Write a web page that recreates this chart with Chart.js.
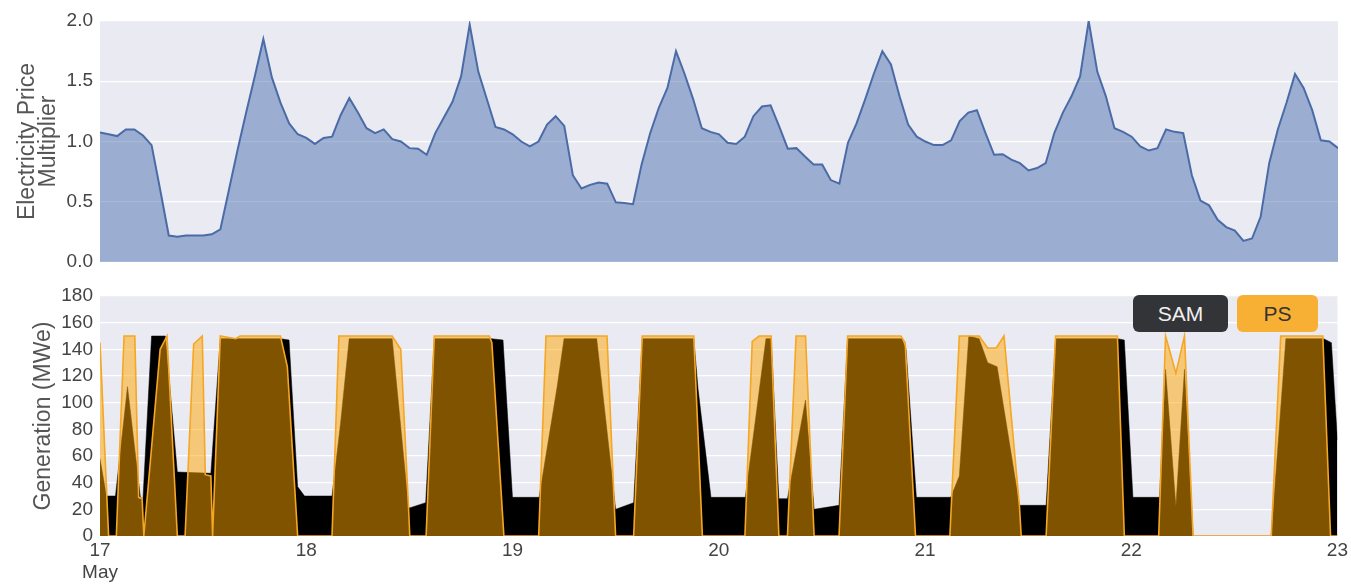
<!DOCTYPE html>
<html>
<head>
<meta charset="utf-8">
<script src="https://cdn.jsdelivr.net/npm/chart.js@4.4.1/dist/chart.umd.min.js"></script>
<style>
  html, body { margin: 0; padding: 0; background: #fff; }
  body { width: 1351px; height: 584px; position: relative; overflow: hidden; font-family: "Liberation Sans", Arial, sans-serif; }
  #topWrap { position: absolute; left: 0; top: 0; }
  #botWrap { position: absolute; left: 0; top: 275px; }
  .tag { position: absolute; top: 295px; height: 37px; line-height: 37px; text-align: center; font-size: 21px; border-radius: 6px; }
  #tagSam { left: 1133px; width: 95px; background: #333438; color: #f0f0f0; }
  #tagPs { left: 1237px; width: 81px; background: #f7b034; color: #333; }
</style>
</head>
<body>
<div id="topWrap"><canvas id="priceChart" width="1351" height="281"></canvas></div>
<div id="botWrap"><canvas id="genChart" width="1351" height="309"></canvas></div>
<div class="tag" id="tagSam">SAM</div>
<div class="tag" id="tagPs">PS</div>
<script>
// hourly price multiplier, 17 May 00:00 -> 23 May 00:00
const priceValues = [
  1.075, 1.06, 1.045, 1.10, 1.10, 1.05, 0.97, 0.60, 0.22, 0.21,
  0.22, 0.22, 0.22, 0.23, 0.27, 0.60, 0.93, 1.24, 1.54, 1.85,
  1.53, 1.32, 1.15, 1.06, 1.03, 0.98, 1.03, 1.04, 1.22, 1.36,
  1.24, 1.11, 1.07, 1.10, 1.02, 1.00, 0.945, 0.94, 0.89, 1.07,
  1.20, 1.33, 1.54, 1.97, 1.58, 1.35, 1.12, 1.10, 1.06, 1.00,
  0.96, 1.00, 1.14, 1.21, 1.13, 0.72, 0.61, 0.64, 0.66, 0.65,
  0.495, 0.49, 0.48, 0.81, 1.07, 1.28, 1.445, 1.75, 1.56, 1.35,
  1.11, 1.08, 1.06, 0.99, 0.98, 1.04, 1.21, 1.29, 1.30, 1.125,
  0.94, 0.945, 0.875, 0.81, 0.81, 0.68, 0.65, 0.99, 1.15, 1.35,
  1.56, 1.75, 1.64, 1.375, 1.14, 1.04, 1.00, 0.97, 0.97, 1.01,
  1.17, 1.24, 1.26, 1.07, 0.89, 0.895, 0.85, 0.82, 0.76, 0.78,
  0.82, 1.07, 1.24, 1.375, 1.54, 2.00, 1.58, 1.375, 1.11, 1.08,
  1.04, 0.96, 0.925, 0.945, 1.10, 1.08, 1.07, 0.72, 0.51, 0.47,
  0.35, 0.29, 0.26, 0.175, 0.195, 0.375, 0.82, 1.10, 1.32, 1.56,
  1.445, 1.26, 1.01, 1.00, 0.945
];

// generation (MWe), hours since 17 May 00:00
const samHours = [0, 0.75, 1.8, 3.2, 4.7, 5.0, 6.0, 7.6, 9.0, 12.9,
  14.0, 21.0, 22.0, 23.0, 23.8, 27.0, 28.0, 29.0, 34.0, 35.9,
  36.0, 37.9, 38.9, 45.5, 46.9, 48.0, 51.1, 53.2, 54.0, 57.8,
  59.5, 60.0, 62.1, 63.1, 69.1, 69.6, 71.1, 75.1, 77.5, 78.1,
  79.0, 80.0, 82.1, 83.1, 86.0, 87.0, 93.3, 93.8, 95.0, 99.0,
  100.0, 101.1, 102.3, 103.3, 104.4, 107.0, 110.1, 111.2, 118.4, 119.2,
  120.2, 123.3, 124.0, 125.2, 126.2, 127.2, 136.3, 138.0, 142.4, 143.3, 144.0];
const samMW = [58, 30, 30, 112, 29, 28, 150, 150, 48, 47,
  148, 148, 147, 37, 30, 30, 85, 148, 148, 22,
  21, 25, 148, 148, 147, 29, 29, 112, 148, 148,
  50, 20, 25, 148, 148, 110, 29, 29, 148, 148,
  28, 28, 102, 20, 23, 148, 148, 140, 29, 29,
  45, 150, 148, 130, 127, 23, 23, 148, 148, 147,
  29, 29, 125, 22, 125, 0, 0, 148, 148, 145, 72];

const psHours = [0, 1.0, 1.9, 2.8, 4.05, 4.5, 4.9, 5.1, 7.0, 7.8,
  9.0, 9.9, 10.9, 11.9, 12.25, 12.9, 13.1, 14.0, 15.8, 16.3,
  21.0, 21.8, 23.0, 27.0, 27.8, 34.0, 35.0, 35.9, 36.05, 37.95,
  38.9, 45.3, 45.6, 47.0, 51.05, 51.9, 59.0, 60.0, 62.1, 63.1,
  69.1, 70.1, 75.05, 75.9, 76.7, 78.1, 79.0, 80.0, 81.0, 82.1,
  83.1, 86.0, 87.0, 93.2, 93.7, 94.9, 98.9, 100.0, 102.3, 103.3,
  104.3, 105.2, 107.0, 107.2, 110.1, 111.2, 118.4, 119.2, 123.2, 124.0,
  125.2, 126.2, 127.2, 136.3, 137.4, 142.3, 143.2, 144.0];
const psMW = [145, 0, 0, 150, 150, 29, 28, 0, 140, 150,
  0, 0, 144, 150, 46, 45, 0, 150, 148, 150,
  150, 127, 0, 0, 150, 150, 140, 22, 0, 0,
  150, 150, 145, 0, 0, 150, 150, 0, 0, 150,
  150, 0, 0, 146, 150, 150, 0, 0, 150, 150,
  0, 0, 150, 150, 145, 0, 0, 150, 150, 141,
  141, 150, 22, 0, 0, 150, 150, 0, 0, 150,
  122, 150, 0, 0, 150, 150, 0, 0];

const dayLabels = ['17', '18', '19', '20', '21', '22', '23'];
const monthLabel = 'May';
const priceTicks = [0, 0.5, 1.0, 1.5, 2.0];
const genTicks = [0, 20, 40, 60, 80, 100, 120, 140, 160, 180];

const FONT = '"Liberation Sans", Arial, sans-serif';
const TICK_COLOR = '#444';

const plotBg = {
  id: 'plotBg',
  beforeDraw(chart) {
    const { ctx, chartArea: a } = chart;
    ctx.save();
    ctx.fillStyle = '#eaeaf2';
    ctx.fillRect(a.left, a.top, a.right - a.left, a.bottom - a.top);
    ctx.restore();
  }
};

function toPoints(xs, ys) {
  return xs.map((x, i) => ({ x: x, y: ys[i] }));
}

function yAxis(ticks, titleText, titlePad, fmt) {
  return {
    min: ticks[0],
    max: ticks[ticks.length - 1],
    afterFit: s => { s.width = 100; },
    afterBuildTicks: s => { s.ticks = ticks.map(v => ({ value: v })); },
    ticks: { color: TICK_COLOR, font: { family: FONT, size: 19 }, padding: 7, callback: fmt },
    grid: { color: '#ffffff', lineWidth: 1.3, drawTicks: false },
    border: { display: false },
    title: {
      display: true, text: titleText, color: '#555',
      font: { family: FONT, size: 23, lineHeight: 0.92 },
      padding: { top: titlePad, bottom: 0 }
    }
  };
}

new Chart(document.getElementById('priceChart'), {
  type: 'line',
  data: {
    datasets: [{
      data: priceValues.map((v, h) => ({ x: h, y: v })),
      borderColor: '#4a6ba6',
      borderWidth: 2,
      backgroundColor: 'rgba(76,114,176,0.5)',
      fill: 'origin',
      pointRadius: 0,
      tension: 0
    }]
  },
  options: {
    responsive: false,
    animation: false,
    devicePixelRatio: 1,
    layout: { padding: { left: 0, right: 13, top: 21, bottom: 19 } },
    plugins: { legend: { display: false }, tooltip: { enabled: false } },
    scales: {
      x: { type: 'linear', min: 0, max: 144, display: false },
      y: yAxis(priceTicks, ['Electricity Price', 'Multiplier'], 17, v => v.toFixed(1))
    }
  },
  plugins: [plotBg]
});

new Chart(document.getElementById('genChart'), {
  type: 'line',
  data: {
    datasets: [
      {
        label: 'PS',
        data: toPoints(psHours, psMW),
        borderColor: '#f5a623',
        borderWidth: 1.6,
        backgroundColor: 'rgba(255,166,0,0.5)',
        fill: 'origin',
        pointRadius: 0,
        tension: 0,
        order: 0
      },
      {
        label: 'SAM',
        data: toPoints(samHours, samMW),
        borderColor: '#000000',
        borderWidth: 0.5,
        backgroundColor: '#000000',
        fill: 'origin',
        pointRadius: 0,
        tension: 0,
        order: 1
      }
    ]
  },
  options: {
    responsive: false,
    animation: false,
    devicePixelRatio: 1,
    layout: { padding: { left: 0, right: 13, top: 21, bottom: 0 } },
    plugins: { legend: { display: false }, tooltip: { enabled: false } },
    scales: {
      x: {
        type: 'linear', min: 0, max: 144,
        afterFit: s => { s.height = 48; },
        afterBuildTicks: s => { s.ticks = dayLabels.map((d, i) => ({ value: i * 24 })); },
        ticks: {
          color: TICK_COLOR, font: { family: FONT, size: 19, lineHeight: 1.2 },
          padding: 3, maxRotation: 0, autoSkip: false,
          callback: v => {
            const i = Math.round(v / 24);
            return i === 0 ? [dayLabels[0], monthLabel] : dayLabels[i];
          }
        },
        grid: { display: false, drawTicks: false },
        border: { display: false }
      },
      y: yAxis(genTicks, 'Generation (MWe)', 33, v => String(v))
    }
  },
  plugins: [plotBg]
});
</script>
</body>
</html>
